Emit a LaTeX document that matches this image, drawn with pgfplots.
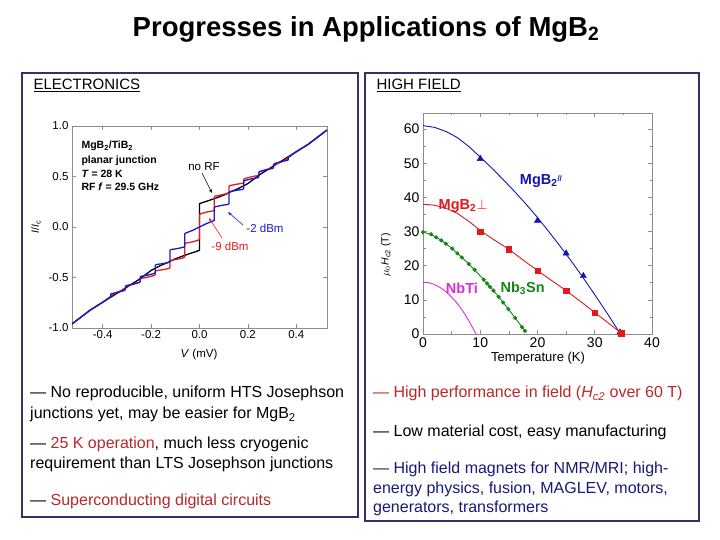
\documentclass[border=0pt]{standalone}
\usepackage{pgfplots}
\pgfplotsset{compat=1.18}
\usepackage{fontspec}
\setmainfont{Liberation Sans}
\usetikzlibrary{arrows.meta}

\definecolor{framenavy}{RGB}{50,50,105}
\definecolor{txtred}{RGB}{185,40,40}
\definecolor{txtnavy}{RGB}{25,25,120}
\definecolor{ivblue}{RGB}{25,25,210}
\definecolor{ivred}{RGB}{225,30,30}
\definecolor{hblue}{RGB}{20,20,175}
\definecolor{hred}{RGB}{225,25,25}
\definecolor{hgreen}{RGB}{20,135,20}
\definecolor{hmag}{RGB}{215,45,215}
\definecolor{axgray}{RGB}{140,140,140}

\newcommand{\fsz}[1]{\fontsize{#1bp}{1.2\dimexpr #1bp\relax}\selectfont}

\pgfplotsset{
  panel/.style={
    scale only axis,
    anchor=south west,
    axis line style={axgray, line width=0.6bp},
    tick style={axgray, line width=0.6bp},
    tick align=inside,
    major tick length=4bp,
    minor tick length=2.5bp,
    /pgf/number format/assume math mode=true,
    clip=true,
  }
}

\begin{document}
\begin{tikzpicture}[x=1bp,y=1bp]
\useasboundingbox (0,0) rectangle (720,540);

% slide title
\node[font=\fsz{27.5}\bfseries] at (366,511) {Progresses in Applications of MgB\textsubscript{2}};

% the two panels
\draw[framenavy, line width=2bp] (22,467) rectangle (358,23);
\draw[framenavy, line width=2bp] (365,467) rectangle (699,19);

\node[anchor=base west, font=\fsz{15}] at (30,450) {\underline{ELECTRONICS}};
\node[anchor=base west, font=\fsz{15}] at (373,450) {\underline{HIGH FIELD}};

% ---------------- I-V curves of the planar junction ----------------
\begin{axis}[panel,
  at={(72bp,212bp)}, width=255bp, height=202bp,
  xmin=-0.527, xmax=0.527, ymin=-1, ymax=1,
  xtick={-0.4,-0.2,0,0.2,0.4}, xticklabels={-0.4,-0.2,0.0,0.2,0.4},
  ytick={-1,-0.5,0,0.5,1}, yticklabels={-1.0,-0.5,0.0,0.5,1.0},
  tick label style={font=\fsz{11.5}},
  xticklabel style={yshift=1bp},
]
% no RF
\addplot[black, line width=1.3bp] coordinates {
(-0.527,-0.96) (-0.45,-0.82) (-0.4,-0.745) (-0.35,-0.67) (-0.3,-0.595) (-0.25,-0.52)
(-0.2,-0.43) (-0.16,-0.38) (-0.13,-0.35) (-0.1,-0.315) (-0.066,-0.285) (-0.03,-0.255)
(-0.01,-0.24) (0,-0.23) (0,0.23) (0.01,0.24) (0.03,0.255) (0.066,0.285) (0.1,0.315)
(0.13,0.35) (0.16,0.38) (0.2,0.43) (0.25,0.52) (0.3,0.595) (0.35,0.67) (0.4,0.745)
(0.45,0.82) (0.527,0.96)};
% -9 dBm
\addplot[ivred, line width=1.3bp] coordinates {
(-0.527,-0.96) (-0.45,-0.82) (-0.4,-0.745) (-0.367,-0.69) (-0.367,-0.68) (-0.34,-0.645)
(-0.312,-0.622) (-0.306,-0.61) (-0.306,-0.59) (-0.302,-0.585) (-0.28,-0.572) (-0.25,-0.55)
(-0.245,-0.54) (-0.245,-0.515) (-0.241,-0.51) (-0.215,-0.497) (-0.187,-0.48) (-0.183,-0.472)
(-0.183,-0.44) (-0.179,-0.433) (-0.15,-0.422) (-0.126,-0.41) (-0.122,-0.40) (-0.122,-0.34)
(-0.118,-0.332) (-0.09,-0.318) (-0.065,-0.305) (-0.061,-0.295) (-0.061,-0.168) (-0.057,-0.16)
(-0.03,-0.148) (-0.004,-0.13) (0,-0.12)
(0,0.12) (0.004,0.13) (0.03,0.148) (0.057,0.16) (0.061,0.168) (0.061,0.295) (0.065,0.305)
(0.09,0.318) (0.118,0.332) (0.122,0.34) (0.122,0.40) (0.126,0.41) (0.15,0.422) (0.179,0.433)
(0.183,0.44) (0.183,0.472) (0.187,0.48) (0.215,0.497) (0.241,0.51) (0.245,0.515) (0.245,0.54)
(0.25,0.55) (0.28,0.572) (0.302,0.585) (0.306,0.59) (0.306,0.61) (0.312,0.622) (0.34,0.645)
(0.367,0.68) (0.367,0.69) (0.4,0.745) (0.45,0.82) (0.527,0.96)};
% -2 dBm
\addplot[ivblue, line width=1.3bp] coordinates {
(-0.527,-0.96) (-0.45,-0.82) (-0.4,-0.745) (-0.367,-0.69) (-0.367,-0.668) (-0.364,-0.66)
(-0.34,-0.648) (-0.312,-0.63) (-0.306,-0.62) (-0.306,-0.587) (-0.302,-0.58) (-0.28,-0.568)
(-0.25,-0.55) (-0.245,-0.54) (-0.245,-0.495) (-0.241,-0.488) (-0.215,-0.477) (-0.187,-0.46)
(-0.183,-0.45) (-0.183,-0.38) (-0.179,-0.372) (-0.15,-0.362) (-0.126,-0.35) (-0.122,-0.34)
(-0.122,-0.232) (-0.118,-0.224) (-0.09,-0.213) (-0.065,-0.2) (-0.061,-0.19) (-0.061,-0.068)
(-0.057,-0.06) (-0.03,-0.035) (0,0)
(0.03,0.035) (0.057,0.06) (0.061,0.068) (0.061,0.19) (0.065,0.2) (0.09,0.213) (0.118,0.224)
(0.122,0.232) (0.122,0.34) (0.126,0.35) (0.15,0.362) (0.179,0.372) (0.183,0.38) (0.183,0.45)
(0.187,0.46) (0.215,0.477) (0.241,0.488) (0.245,0.495) (0.245,0.54) (0.25,0.55) (0.28,0.568)
(0.302,0.58) (0.306,0.587) (0.306,0.62) (0.312,0.63) (0.34,0.648) (0.364,0.66) (0.367,0.668)
(0.367,0.69) (0.4,0.745) (0.45,0.82) (0.527,0.96)};
\end{axis}

% annotations of the I-V panel
\node[anchor=west, align=left, font=\fsz{10.5}\bfseries] at (78,374) {%
  MgB\textsubscript{2}/TiB\textsubscript{2}\\[2.5bp]
  planar junction\\[1bp]
  \textit{T} = 28 K\\[1bp]
  RF \textit{f} = 29.5 GHz};
\node[font=\fsz{11.5}] at (204,373) {no RF};
\draw[-{Stealth[length=4bp]}, line width=0.6bp] (202,367) -- (212,347);
\node[font=\fsz{11.5}, text=ivblue] at (265,312) {-2 dBm};
\draw[-{Stealth[length=4bp]}, ivblue, line width=0.6bp] (243,315) -- (228,328);
\node[font=\fsz{11.5}, text=ivred] at (230,294) {-9 dBm};
\draw[-{Stealth[length=4bp]}, ivred, line width=0.6bp] (222,302) -- (209,322);
\node[font=\fsz{11.5}] at (199,185) {\textit{V} (mV)};
\node[font=\fsz{10.5}, rotate=90] at (36,313) {\textit{I}/\textit{I}\textsubscript{c}};

% ---------------- upper critical field vs temperature ----------------
\begin{axis}[panel,
  at={(423bp,206bp)}, width=229bp, height=221bp,
  xmin=0, xmax=40, ymin=0, ymax=64.7,
  xtick={0,10,20,30,40}, ytick={0,10,20,30,40,50,60},
  minor x tick num=1, minor y tick num=1,
  tick label style={font=\fsz{14}},
  clip=false,
]
% MgB2 parallel
\addplot[hblue, line width=0.9bp] coordinates {
(0,61.0) (2,60.5) (4,59.3) (6,57.5) (8,54.9) (10,51.8) (12,48.6) (14,45.2) (16,41.7)
(18,38.0) (20,34.1) (22,29.9) (24,25.6) (26,21.1) (28,16.4) (30,11.5) (32,6.5) (34,1.3) (34.5,0)};
\addplot[hblue, only marks, mark=triangle*, mark size=3.6bp] coordinates {
(10,51.3) (20,33.2) (25,23.6) (28,17.0) (34.4,0.5)};
% MgB2 perpendicular
\addplot[hred, line width=0.9bp] coordinates {
(0,38.0) (2,37.7) (4,36.8) (6,35.3) (8,33.0) (10,30.3) (12,28.0) (15,24.8) (18,21.0)
(20,18.6) (22,16.2) (25,12.7) (28,8.9) (30,6.3) (32,3.7) (34.8,0)};
\addplot[hred, only marks, mark=square*, mark size=2.8bp] coordinates {
(10,30.0) (15,24.8) (20,18.5) (25,12.7) (30,6.2) (34.6,0.3)};
% Nb3Sn
\addplot[hgreen, line width=0.9bp, mark=*, mark size=1.6bp] coordinates {
(0,29.8) (1.4,29.2) (2.3,28.3) (3.2,27.4) (4.0,26.4) (5.1,25.0) (6.0,23.6) (6.8,22.4)
(8.0,20.5) (9.0,18.8) (10.6,15.9) (11.2,14.8) (11.7,13.8) (12.3,12.7) (13.2,10.9)
(14.0,9.2) (14.9,7.3) (16.1,4.7) (17.3,2.0) (17.8,0.9)};
% NbTi
\addplot[hmag, line width=0.9bp] coordinates {
(0,15.2) (1,15.0) (2,14.5) (3,13.6) (4,12.4) (5,10.8) (6,8.9) (7,6.6) (8,3.9) (9,0.8) (9.3,0)};

\node[font=\fsz{14.5}\bfseries, text=hblue] at (axis cs:20.6,44.7) {MgB\textsubscript{2}\raisebox{3bp}{\fsz{8}//}};
\node[font=\fsz{14.5}\bfseries, text=hred] at (axis cs:7.0,37.6) {MgB\textsubscript{2}$\perp$};
\node[font=\fsz{14.5}\bfseries, text=hmag] at (axis cs:6.8,13.4) {NbTi};
\node[font=\fsz{14.5}\bfseries, text=hgreen] at (axis cs:17.4,13.4) {Nb\textsubscript{3}Sn};
\end{axis}
\node[font=\fsz{13}] at (538,182) {Temperature (K)};
\node[font=\fsz{10.5}, rotate=90] at (386,285) {$\mu_0$\textit{H}\textsubscript{c2} (T)};

% ---------------- bullet text ----------------
\begin{scope}[every node/.style={anchor=base west, font=\fsz{16}, inner sep=0pt}]
\node at (30,142) {— No reproducible, uniform HTS Josephson};
\node at (30,121) {junctions yet, may be easier for MgB\textsubscript{2}};
\node at (30,91) {— \textcolor{txtred}{25 K operation}, much less cryogenic};
\node at (30,71) {requirement than LTS Josephson junctions};
\node at (30,34) {— \textcolor{txtred}{Superconducting digital circuits}};

\node[text=txtred] at (373,142) {— High performance in field (\textit{H}\textsubscript{\textit{c2}} over 60 T)};
\node at (373,103) {— Low material cost, easy manufacturing};
\node[text=txtnavy] at (373,66) {— High field magnets for NMR/MRI; high-};
\node[text=txtnavy] at (373,46) {energy physics, fusion, MAGLEV, motors,};
\node[text=txtnavy] at (373,27) {generators, transformers};
\end{scope}
\end{tikzpicture}
\end{document}
